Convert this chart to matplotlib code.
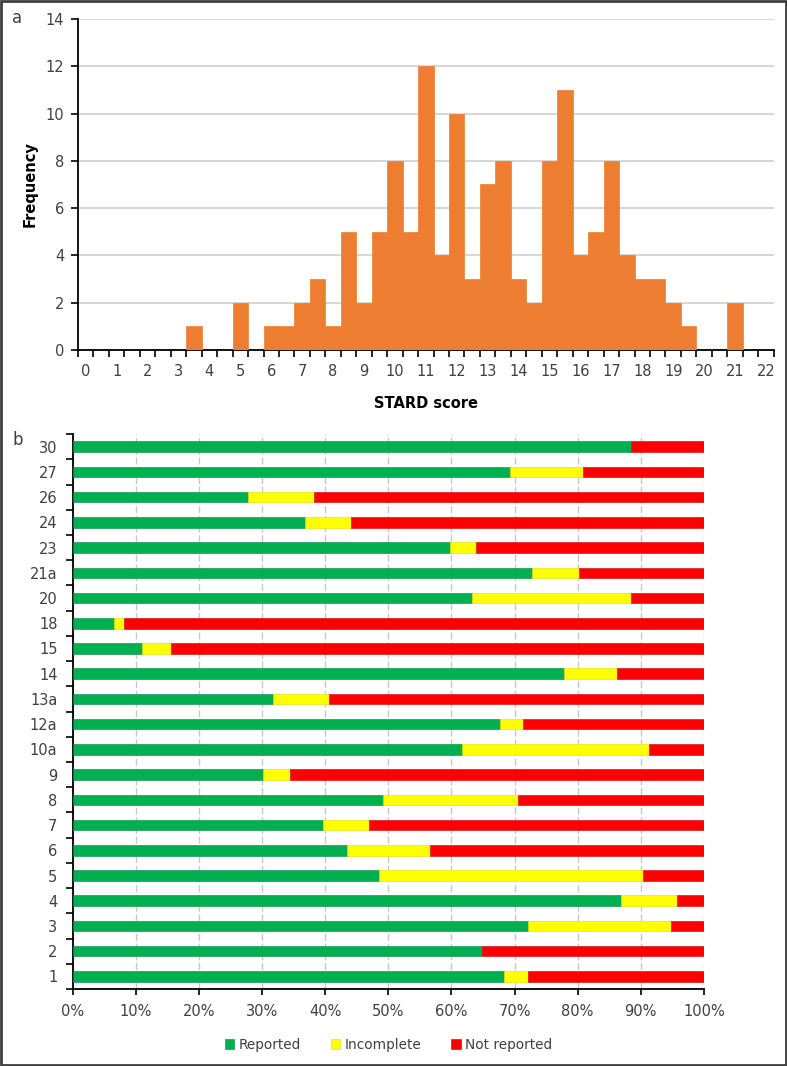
import matplotlib.pyplot as plt
from matplotlib.patches import Rectangle
from matplotlib.ticker import FixedLocator

plt.rcParams['font.family'] = ['DejaVu Sans']

# panel a: STARD score histogram (half-point categories)
scores = [i * 0.5 for i in range(45)]
freq = [0, 0, 0, 0, 0, 0, 0, 1, 0, 0, 2, 0, 1, 1, 2, 3, 1, 5, 2, 5,
        8, 5, 12, 4, 10, 3, 7, 8, 3, 2, 8, 11, 4, 5, 8, 4, 3, 3, 2, 1,
        0, 0, 2, 0, 0]

# panel b: reporting per STARD item (%)
items = ['1', '2', '3', '4', '5', '6', '7', '8', '9', '10a', '12a', '13a',
         '14', '15', '18', '20', '21a', '23', '24', '26', '27', '30']
reported = [68.4, 64.8, 72.2, 86.8, 48.5, 43.5, 39.7, 49.2, 30.1, 61.7, 67.7,
            31.7, 77.9, 11.0, 6.5, 63.3, 72.8, 59.7, 36.8, 27.8, 69.3, 88.4]
incomplete = [3.8, 0.0, 22.6, 8.9, 41.9, 13.1, 7.2, 21.4, 4.4, 29.6, 3.6,
              8.9, 8.3, 4.5, 1.6, 25.1, 7.4, 4.2, 7.3, 10.5, 11.5, 0.0]
not_reported = [27.8, 35.2, 5.2, 4.3, 9.6, 43.4, 53.1, 29.4, 65.5, 8.7, 28.7,
                59.4, 13.8, 84.5, 91.9, 11.6, 19.8, 36.1, 55.9, 61.7, 19.2, 11.6]

txt = '#404040'
fs = 10.5
fig = plt.figure(figsize=(7.87, 10.66), dpi=100)

# ---- a ----
ax1 = fig.add_axes([0.0991, 0.6717, 0.884, 0.3105])
ax1.bar(scores, freq, width=0.5, color='#ED7D31', edgecolor='#ED7D31', linewidth=0.5, zorder=3)
ax1.set_xlim(-0.25, 22.25)
ax1.set_ylim(0, 14)
ax1.set_yticks(range(0, 15, 2))
ax1.set_xticks(range(0, 23))
ax1.xaxis.set_minor_locator(FixedLocator([-0.25 + 0.5 * k for k in range(46)]))
ax1.tick_params(axis='x', which='major', length=0, pad=10, labelsize=fs, labelcolor=txt)
ax1.tick_params(axis='x', which='minor', length=5, width=1.2, direction='out')
ax1.tick_params(axis='y', length=5, width=1.2, pad=5, labelsize=fs, labelcolor=txt)
ax1.grid(axis='y', color='#D0D0D0', linewidth=1.2, zorder=0)
for s in ['top', 'right']:
    ax1.spines[s].set_visible(False)
for s in ['left', 'bottom']:
    ax1.spines[s].set_linewidth(1.3)
ax1.set_ylabel('Frequency', fontsize=fs, fontweight='bold', labelpad=6)
ax1.set_xlabel('STARD score', fontsize=fs, fontweight='bold', labelpad=12)

# ---- b ----
ax2 = fig.add_axes([0.0924, 0.0722, 0.802, 0.5206])
y = range(len(items))
left2 = [r + i for r, i in zip(reported, incomplete)]
h = 0.42
ax2.barh(y, reported, height=h, color='#00B050', edgecolor='#008a3e', linewidth=0.4, label='Reported', zorder=3)
ax2.barh(y, incomplete, left=reported, height=h, color='#FFFF00', edgecolor='#e0e000', linewidth=0.4, label='Incomplete', zorder=3)
ax2.barh(y, not_reported, left=left2, height=h, color='#FF0000', edgecolor='#cc0000', linewidth=0.4, label='Not reported', zorder=3)
ax2.set_xlim(0, 100)
ax2.set_ylim(-0.5, len(items) - 0.5)
ax2.set_yticks(list(y))
ax2.set_yticklabels(items)
ax2.yaxis.set_minor_locator(FixedLocator([k - 0.5 for k in range(len(items) + 1)]))
ax2.set_xticks(range(0, 101, 10))
ax2.set_xticklabels([f'{v}%' for v in range(0, 101, 10)])
ax2.tick_params(axis='y', which='major', length=0, pad=11, labelsize=fs, labelcolor=txt)
ax2.tick_params(axis='y', which='minor', length=5, width=1.2)
ax2.tick_params(axis='x', length=4, width=1.2, pad=7, labelsize=fs, labelcolor=txt)
ax2.grid(axis='x', color='#C8C8C8', linewidth=1.0, linestyle=(0, (5, 2)), zorder=0)
for s in ['top', 'right']:
    ax2.spines[s].set_visible(False)
for s in ['left', 'bottom']:
    ax2.spines[s].set_linewidth(1.3)
ax2.legend(loc='upper center', bbox_to_anchor=(0.5, -0.066), ncol=3, frameon=False,
           fontsize=9.8, handlelength=0.7, handleheight=0.7, handletextpad=0.3,
           columnspacing=2.2, labelcolor=txt)

# panel letters and frame
fig.text(0.015, 0.983, 'a', fontsize=12, color=txt, va='center')
fig.text(0.016, 0.587, 'b', fontsize=12, color=txt, va='center')
fig.patches.append(Rectangle((0.001, 0.001), 0.998, 0.998, transform=fig.transFigure,
                             fill=False, edgecolor='#404040', linewidth=2))

fig.savefig('out.png', dpi=100)
